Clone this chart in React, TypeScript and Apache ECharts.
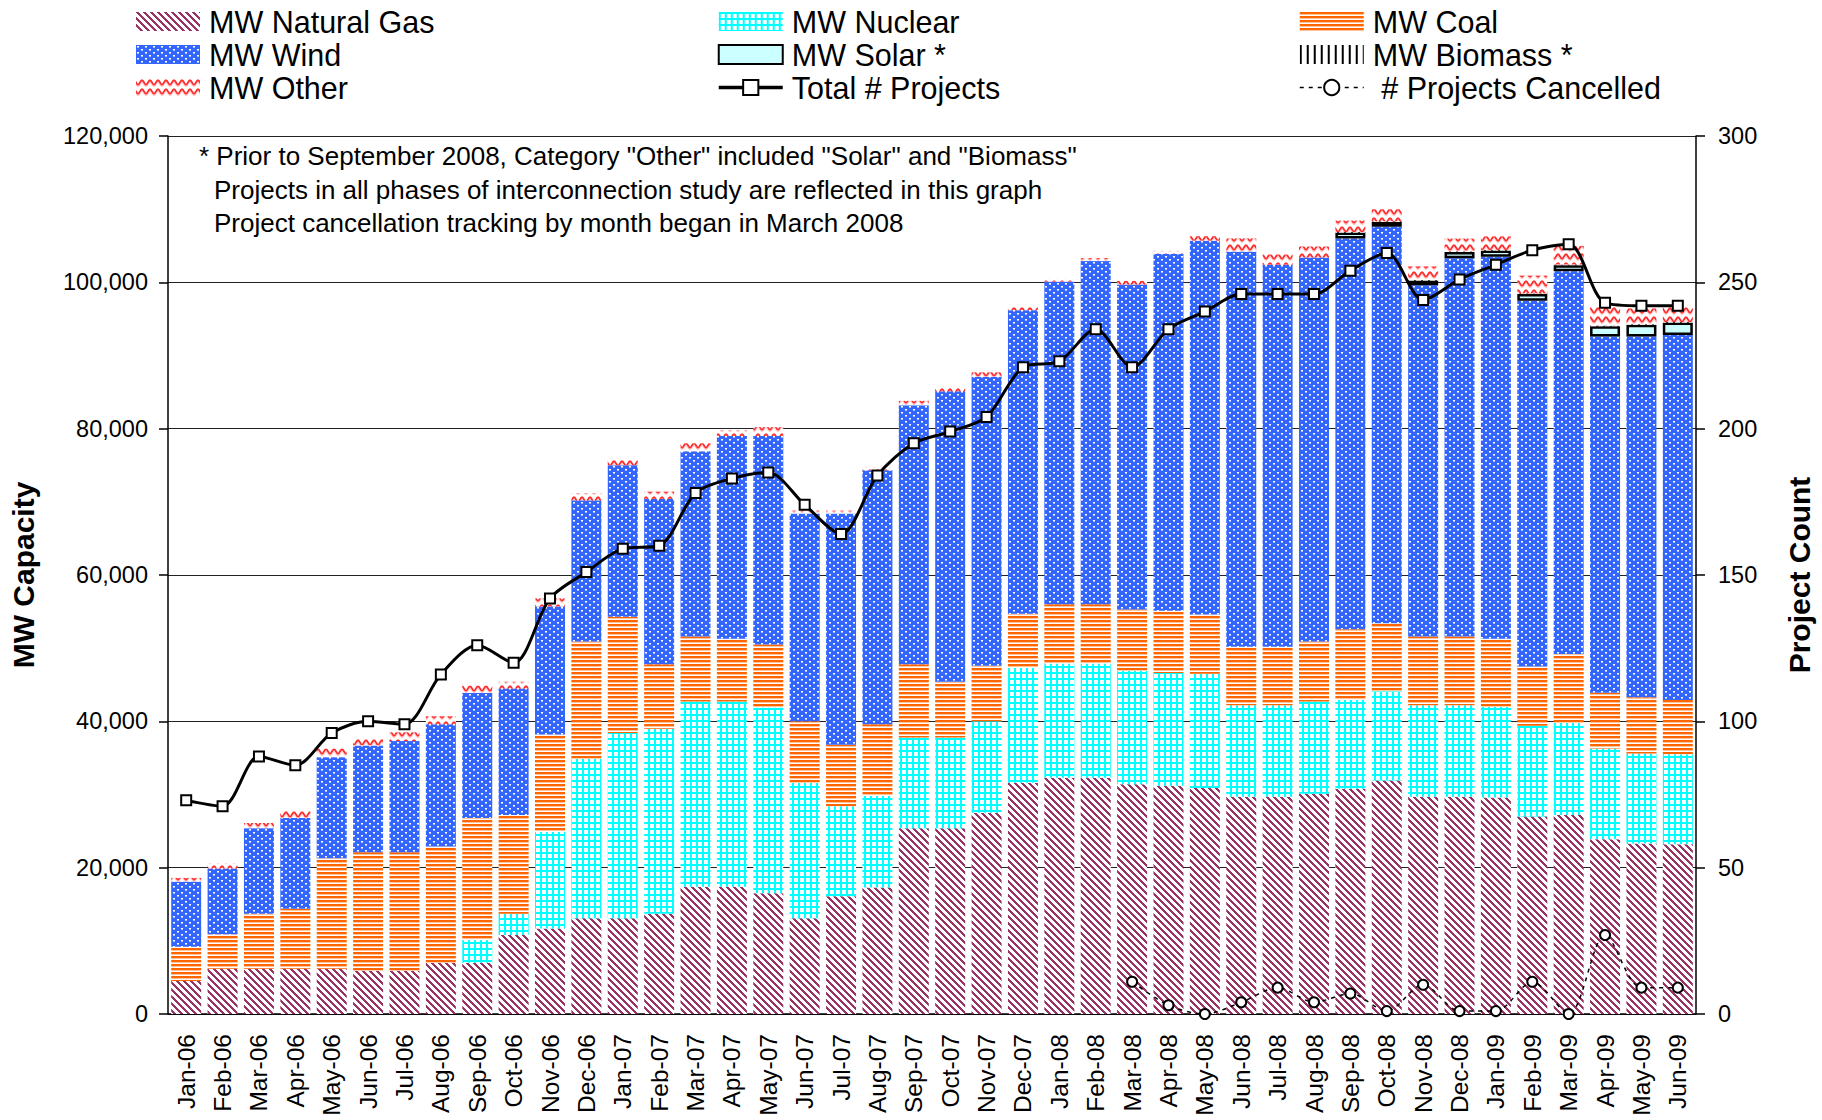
import React, { useEffect, useRef } from 'react';
import * as echarts from 'echarts';

const FONT = '"Liberation Sans", Arial, sans-serif';

const months = [
  'Jan-06', 'Feb-06', 'Mar-06', 'Apr-06', 'May-06', 'Jun-06', 'Jul-06', 'Aug-06', 'Sep-06', 'Oct-06', 'Nov-06', 'Dec-06',
  'Jan-07', 'Feb-07', 'Mar-07', 'Apr-07', 'May-07', 'Jun-07', 'Jul-07', 'Aug-07', 'Sep-07', 'Oct-07', 'Nov-07', 'Dec-07',
  'Jan-08', 'Feb-08', 'Mar-08', 'Apr-08', 'May-08', 'Jun-08', 'Jul-08', 'Aug-08', 'Sep-08', 'Oct-08', 'Nov-08', 'Dec-08',
  'Jan-09', 'Feb-09', 'Mar-09', 'Apr-09', 'May-09', 'Jun-09',
];

const gasMW = [
  4500, 6200, 6200, 6200, 6200, 5900, 5900, 7000, 7000, 10800, 11700, 13100,
  13100, 13700, 17400, 17400, 16500, 13100, 16100, 17300, 25400, 25400, 27500, 31600,
  32300, 32300, 31400, 31200, 30900, 29700, 29700, 30100, 30800, 31900, 29700, 29700,
  29600, 27000, 27200, 23900, 23300, 23200,
];
const nuclearMW = [
  0, 0, 0, 0, 0, 0, 0, 0, 3100, 2900, 13200, 21800,
  25300, 25300, 25300, 25300, 25400, 18500, 12300, 12500, 12400, 12400, 12500, 15700,
  15600, 15600, 15500, 15400, 15600, 12500, 12500, 12600, 12100, 12200, 12500, 12500,
  12400, 12400, 12600, 12400, 12300, 12300,
];
const coalMW = [
  4700, 4700, 7500, 8200, 15100, 16200, 16200, 15900, 16700, 13500, 13300, 16000,
  15900, 8800, 8900, 8600, 8600, 8400, 8400, 9800, 10000, 7600, 7600, 7400,
  8100, 8100, 8400, 8500, 8100, 8000, 8000, 8200, 9700, 9300, 9400, 9400,
  9300, 8100, 9400, 7600, 7700, 7400,
];
const windMW = [
  8900, 9000, 11700, 12400, 13800, 14600, 15200, 16700, 17100, 17300, 17500, 19300,
  20700, 22600, 25300, 27700, 28500, 28400, 31600, 34700, 35400, 39700, 39500, 41500,
  44100, 46900, 44400, 48800, 51100, 54000, 52200, 52500, 53400, 54200, 48000, 51700,
  52200, 50000, 52300, 48700, 49300, 49900,
];
const solarMW = [
  null, null, null, null, null, null, null, null, null, null, null, null,
  null, null, null, null, null, null, null, null, null, null, null, null,
  null, null, null, null, null, null, null, null, 800, 650, 650, 850,
  850, 900, 850, 1400, 1600, 1700,
];
const biomassMW = [
  null, null, null, null, null, null, null, null, null, null, null, null,
  null, null, null, null, null, null, null, null, null, null, null, null,
  null, null, null, null, null, null, null, null, 80, 80, 80, 80,
  80, 80, 80, 80, 80, 80,
];
const otherMW = [
  500, 700, 700, 1000, 1200, 900, 1200, 1100, 1000, 900, 1100, 1000,
  900, 1000, 1100, 800, 1200, 400, 400, 400, 600, 500, 600, 500,
  400, 400, 500, 400, 600, 1800, 1400, 1500, 1550, 1650, 1850, 1750,
  1850, 2450, 2550, 2650, 2150, 2250,
];
const totalProjects = [
  73, 71, 88, 85, 96, 100, 99, 116, 126, 120, 142, 151,
  159, 160, 178, 183, 185, 174, 164, 184, 195, 199, 204, 221,
  223, 234, 221, 234, 240, 246, 246, 246, 254, 260, 244, 251,
  256, 261, 263, 243, 242, 242,
];
const projectsCancelled = [
  null, null, null, null, null, null, null, null, null, null, null, null,
  null, null, null, null, null, null, null, null, null, null, null, null,
  null, null, 11, 3, 0, 4, 9, 4, 7, 1, 10, 1,
  1, 11, 0, 27, 9, 9,
];

const noteLines = [
  '* Prior to September 2008, Category "Other" included "Solar" and "Biomass"',
  'Projects in all phases of interconnection study are reflected in this graph',
  'Project cancellation tracking by month began in March 2008',
];

type Px = [number, number, number, number, string];

function tile(w: number, h: number, draw: (ctx: CanvasRenderingContext2D) => void) {
  const c = document.createElement('canvas');
  c.width = w;
  c.height = h;
  const ctx = c.getContext('2d') as CanvasRenderingContext2D;
  ctx.fillStyle = '#ffffff';
  ctx.fillRect(0, 0, w, h);
  draw(ctx);
  return { image: c.toDataURL(), repeat: 'repeat', imageWidth: w, imageHeight: h } as any;
}

function makePatterns() {
  const gas = tile(7, 7, (ctx) => {
    ctx.fillStyle = '#993366';
    for (let y = 0; y < 7; y++) for (let x = 0; x < 7; x++) {
      if (((x - y + 14) % 7) < 3) ctx.fillRect(x, y, 1, 1);
    }
  });
  const nuclear = tile(6, 6, (ctx) => {
    ctx.fillStyle = '#00FFFF';
    ctx.fillRect(0, 0, 6, 2);
    ctx.fillRect(0, 0, 2, 6);
  });
  const coal = tile(4, 4, (ctx) => {
    ctx.fillStyle = '#FF6600';
    ctx.fillRect(0, 0, 4, 2);
    ctx.fillStyle = '#FFC49A';
    ctx.fillRect(0, 2, 4, 1);
  });
  const wind = tile(8, 6, (ctx) => {
    ctx.fillStyle = '#3366FF';
    ctx.fillRect(0, 0, 8, 6);
    const dots: Px[] = [[1, 1, 2, 1, '#ffffff'], [5, 4, 2, 1, '#ffffff'], [1, 2, 2, 1, '#A8BCFF'], [5, 5, 2, 1, '#A8BCFF']];
    dots.forEach(([x, y, w, h, col]) => { ctx.fillStyle = col; ctx.fillRect(x, y, w, h); });
  });
  const biomass = tile(7, 2, (ctx) => {
    ctx.fillStyle = '#000000';
    ctx.fillRect(0, 0, 2, 2);
  });
  const other = tile(8, 9, (ctx) => {
    ctx.lineWidth = 1.8;
    ctx.strokeStyle = '#FF2A2A';
    ctx.beginPath();
    for (let i = -2; i <= 20; i++) {
      const x = i * 0.5;
      const y = 4.5 + 2.2 * Math.sin((2 * Math.PI * x) / 8);
      if (i === -2) ctx.moveTo(x, y); else ctx.lineTo(x, y);
    }
    ctx.stroke();
    ctx.strokeStyle = '#FFB0B0';
    ctx.lineWidth = 1;
    ctx.beginPath();
    for (let i = -2; i <= 20; i++) {
      const x = i * 0.5;
      const y = 6.8 + 2.2 * Math.sin((2 * Math.PI * x) / 8);
      if (i === -2) ctx.moveTo(x, y); else ctx.lineTo(x, y);
    }
    ctx.stroke();
  });
  return { gas, nuclear, coal, wind, biomass, other };
}

export default function App() {
  const ref = useRef<HTMLDivElement>(null);

  useEffect(() => {
    if (!ref.current) return;
    const chart = echarts.init(ref.current, null, { renderer: 'svg' });
    const p = makePatterns();

    const barBase = (name: string, data: any[], color: any, extra: any = {}) => ({
      name,
      type: 'bar',
      stack: 'mw',
      barWidth: 30,
      data,
      itemStyle: { color, ...extra },
      emphasis: { disabled: true },
    });

    const legendText = { fontSize: 30.5, color: '#000', fontFamily: FONT, lineHeight: 33, padding: [0, 0, 0, 4] };
    const legendCommon = {
      orient: 'vertical',
      top: 5,
      itemWidth: 64,
      itemHeight: 19,
      itemGap: 0,
      padding: 0,
      selectedMode: false,
      textStyle: legendText,
      lineStyle: { width: 3 },
    };

    const option: any = {
      animation: false,
      backgroundColor: '#ffffff',
      textStyle: { fontFamily: FONT },
      legend: [
        { ...legendCommon, left: 136, data: [
          { name: 'MW Natural Gas', icon: 'rect' },
          { name: 'MW Wind', icon: 'rect' },
          { name: 'MW Other', icon: 'rect' },
        ] },
        { ...legendCommon, left: 717, data: [
          { name: 'MW Nuclear', icon: 'rect' },
          { name: 'MW Solar *', icon: 'rect' },
          { name: 'Total # Projects', lineStyle: { width: 3.5 } },
        ] },
        { ...legendCommon, left: 1299,
          formatter: (n: string) => (n === '# Projects Cancelled' ? '\u00a0' + n : n),
          data: [
          { name: 'MW Coal', icon: 'rect' },
          { name: 'MW Biomass *', icon: 'rect' },
          { name: '# Projects Cancelled', lineStyle: { width: 1.5 } },
        ] },
      ],
      grid: { left: 157, top: 136, width: 1544, height: 878, containLabel: false },
      xAxis: {
        type: 'category',
        data: months,
        boundaryGap: true,
        axisLine: { lineStyle: { color: '#000', width: 1.5 } },
        axisTick: { length: 9, lineStyle: { color: '#000', width: 1.5 } },
        axisLabel: { rotate: 90, interval: 0, fontSize: 24.5, color: '#000', margin: 20, fontFamily: FONT },
      },
      yAxis: [
        {
          type: 'value',
          min: 0,
          max: 120000,
          interval: 20000,
          name: 'MW Capacity',
          nameLocation: 'middle',
          nameRotate: 90,
          nameGap: 130,
          nameTextStyle: { fontSize: 30, fontWeight: 'bold', color: '#000', fontFamily: FONT },
          axisLine: { show: true, lineStyle: { color: '#000', width: 1.5 } },
          axisTick: { show: true, length: 9, lineStyle: { color: '#000', width: 1.5 } },
          axisLabel: {
            fontSize: 23.5,
            color: '#000',
            margin: 20,
            fontFamily: FONT,
            formatter: (v: number) => v.toLocaleString('en-US'),
          },
          splitLine: { show: true, lineStyle: { color: '#222', width: 1 } },
        },
        {
          type: 'value',
          min: 0,
          max: 300,
          interval: 50,
          position: 'right',
          name: 'Project Count',
          nameLocation: 'middle',
          nameRotate: 90,
          nameGap: 88,
          nameTextStyle: { fontSize: 30, fontWeight: 'bold', color: '#000', fontFamily: FONT },
          axisLine: { show: true, lineStyle: { color: '#000', width: 1.5 } },
          axisTick: { show: true, length: 9, lineStyle: { color: '#000', width: 1.5 } },
          axisLabel: { fontSize: 23.5, color: '#000', margin: 22, fontFamily: FONT },
          splitLine: { show: false },
        },
      ],
      graphic: [
        { type: 'text', left: 199, top: 143, style: { text: noteLines[0], fontSize: 26, fill: '#000', fontFamily: FONT } },
        { type: 'text', left: 214, top: 177, style: { text: noteLines[1], fontSize: 26, fill: '#000', fontFamily: FONT } },
        { type: 'text', left: 214, top: 210, style: { text: noteLines[2], fontSize: 26, fill: '#000', fontFamily: FONT } },
      ],
      series: [
        barBase('MW Natural Gas', gasMW, p.gas),
        barBase('MW Nuclear', nuclearMW, p.nuclear),
        barBase('MW Coal', coalMW, p.coal),
        barBase('MW Wind', windMW, p.wind),
        barBase('MW Solar *', solarMW, '#CCFFFF', { borderColor: '#000', borderWidth: 2.5 }),
        barBase('MW Biomass *', biomassMW, p.biomass),
        barBase('MW Other', otherMW, p.other),
        {
          name: 'Total # Projects',
          type: 'line',
          yAxisIndex: 1,
          data: totalProjects,
          smooth: 0.3,
          symbol: 'rect',
          symbolSize: 10,
          lineStyle: { color: '#000', width: 3 },
          itemStyle: { color: '#fff', borderColor: '#000', borderWidth: 2 },
          emphasis: { disabled: true },
          z: 5,
        },
        {
          name: '# Projects Cancelled',
          type: 'line',
          yAxisIndex: 1,
          data: projectsCancelled,
          smooth: 0.3,
          symbol: 'circle',
          symbolSize: 10,
          lineStyle: { color: '#000', width: 1.5, type: [4, 5] },
          itemStyle: { color: '#fff', borderColor: '#000', borderWidth: 2 },
          emphasis: { disabled: true },
          z: 5,
        },
      ],
    };

    chart.setOption(option);
    return () => chart.dispose();
  }, []);

  return (
    <div
      ref={ref}
      style={{ position: 'absolute', left: 0, top: 0, width: 1822, height: 1120, background: '#fff' }}
    />
  );
}
